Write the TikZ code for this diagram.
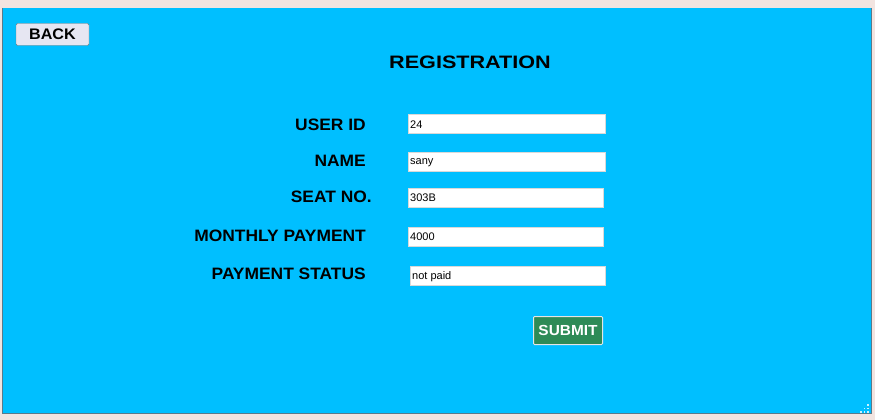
\documentclass[tikz,border=0pt]{standalone}
\usepackage{fontspec}
\setmainfont{Liberation Sans}
\newfontfamily\lblfont[FakeStretch=1.055]{Liberation Sans}
\newfontfamily\ttlfont[FakeStretch=1.2]{Liberation Sans}
\definecolor{frame}{HTML}{F2E4E0}
\definecolor{sky}{HTML}{00BFFF}
\definecolor{edge}{HTML}{5A7A8A}
\definecolor{btn}{HTML}{E6E6F2}
\definecolor{btnedge}{HTML}{7A7A7A}
\definecolor{sea}{HTML}{2E8B57}
\begin{document}
\begin{tikzpicture}[x=1pt,y=-1pt,
  lbl/.style={anchor=east,font=\lblfont\fontsize{16.5}{16.5}\selectfont\bfseries,text=black,inner sep=0pt},
  fieldbox/.style={draw=white!85!black,fill=white,minimum height=19pt,inner sep=0pt,anchor=north west},
  fieldtxt/.style={anchor=west,font=\fontsize{11}{11}\selectfont,inner sep=0pt},
  pushbtn/.style={draw=btnedge,fill=btn,rounded corners=1.5pt,inner sep=0pt,font=\lblfont\fontsize{15.3}{15.3}\selectfont\bfseries}]
\useasboundingbox (0,0) rectangle (875,420);
\fill[frame] (0,0) rectangle (875,420);
\fill[sky] (2,8) rectangle (872,414);
\draw[edge,line width=1pt] (2.5,8) -- (2.5,413.5) -- (871.5,413.5) -- (871.5,8);
% BACK button
\node[pushbtn,minimum width=73pt,minimum height=22pt] (back) at (52.5,34.5) {BACK};
% title
\node[font=\ttlfont\fontsize{18}{18}\selectfont\bfseries,inner sep=0pt] (title) at (470,62.3) {REGISTRATION};
% labels
\node[lbl] (luid) at (366,124.5) {USER ID};
\node[lbl] (lname) at (366,161) {NAME};
\node[lbl] (lseat) at (372,197) {SEAT NO.};
\node[lbl] (lpay) at (366,236) {MONTHLY PAYMENT};
\node[lbl] (lstat) at (366,274) {PAYMENT STATUS};
% fields
\node[fieldbox,minimum width=197pt] (fuid) at (408,114) {};
\node[fieldtxt] (tuid) at ([xshift=2pt,yshift=-1pt]fuid.west) {24};
\node[fieldbox,minimum width=197pt] (fname) at (408,151.5) {};
\node[fieldtxt] (tname) at ([xshift=2pt,yshift=-1pt]fname.west) {sany};
\node[fieldbox,minimum width=195pt] (fseat) at (408,187.5) {};
\node[fieldtxt] (tseat) at ([xshift=2pt,yshift=-1pt]fseat.west) {303B};
\node[fieldbox,minimum width=195pt] (fpay) at (408,226.5) {};
\node[fieldtxt] (tpay) at ([xshift=2pt,yshift=-1pt]fpay.west) {4000};
\node[fieldbox,minimum width=195pt] (fstat) at (410,266) {};
\node[fieldtxt] (tstat) at ([xshift=2pt,yshift=-1pt]fstat.west) {not paid};
% submit
\node[draw=white!80!gray,line width=1pt,fill=sea,text=white,minimum width=69pt,minimum height=28pt,inner sep=0pt,rounded corners=1pt,font=\lblfont\fontsize{14.6}{14.6}\selectfont\bfseries] (submit) at (568,330.5) {SUBMIT};
% resize grip
\foreach \p in {(867,404),(867,407.5),(867,411),(863.5,407.5),(863.5,411),(860,411)}
  \fill[white!80!sky] \p rectangle ++(1.6,1.6);
\end{tikzpicture}
\end{document}
